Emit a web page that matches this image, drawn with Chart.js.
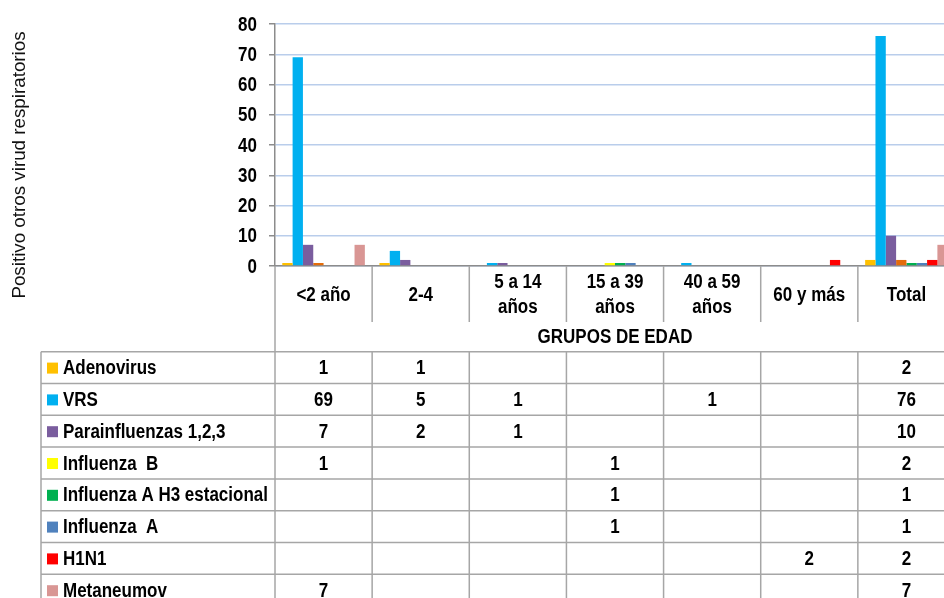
<!DOCTYPE html>
<html>
<head>
<meta charset="utf-8">
<script src="https://cdn.jsdelivr.net/npm/chart.js@4.4.1/dist/chart.umd.min.js"></script>
<style>
  html, body { margin: 0; padding: 0; background: #fff; overflow: hidden; }
  #wrap { position: relative; width: 960px; height: 598px; }
</style>
</head>
<body>
<div id="wrap"><canvas id="c"></canvas></div>
<script>
// Age groups (x categories); each entry holds the lines of its label
const categories = [['<2 año'], ['2-4'], ['5 a 14', 'años'], ['15 a 39', 'años'], ['40 a 59', 'años'], ['60 y más'], ['Total']];

// Virus series; null = empty cell in the data table
const seriesNames = ['Adenovirus', 'VRS', 'Parainfluenzas 1,2,3', 'Influenza  B', 'Influenza A H3 estacional', 'Influenza  A', 'H1N1', 'Metaneumov'];
const adenovirus     = [1, 1, null, null, null, null, 2];
const vrs            = [69, 5, 1, null, 1, null, 76];
const parainfluenzas = [7, 2, 1, null, null, null, 10];
const influenzaB     = [1, null, null, 1, null, null, 2];
const influenzaAH3   = [null, null, null, 1, null, null, 1];
const influenzaA     = [null, null, null, 1, null, null, 1];
const h1n1           = [null, null, null, null, null, 2, 2];
const metaneumov     = [7, null, null, null, null, null, 7];
const seriesValues = [adenovirus, vrs, parainfluenzas, influenzaB, influenzaAH3, influenzaA, h1n1, metaneumov];

const yTicks = [0, 10, 20, 30, 40, 50, 60, 70, 80];

const legendColors = ['#FFC000', '#00B0F0', '#7A5D9E', '#FFFF00', '#00B050', '#4F81BD', '#FF0000', '#D99694'];
// Influenza B bars in "<2 año" and "Total" are filled dark orange
const barColors = legendColors.map((c, i) =>
  i === 3 ? ['#E46C0A', c, c, c, c, c, '#E46C0A'] : c);

const FONT = '"Liberation Sans", Arial, sans-serif';
const BOLD = 'bold 20px ' + FONT;
const SQUEEZE = 0.85;  // narrow lettering
const LINE = '#A6A6A6';

// draws horizontally condensed text
function narrowText(ctx, text, x, y, align) {
  ctx.save();
  ctx.translate(x, y);
  ctx.scale(SQUEEZE, 1);
  ctx.textAlign = align;
  ctx.fillText(text, 0, 0);
  ctx.restore();
}

const tablePlugin = {
  id: 'dataTable',
  afterDraw(chart) {
    const { ctx, chartArea, scales: { x, y } } = chart;
    const n = categories.length;
    const catW = x.getPixelForValue(1) - x.getPixelForValue(0);
    const edges = [];
    for (let i = 0; i <= n; i++) edges.push(x.getPixelForValue(0) - catW / 2 + i * catW);
    const axisX = chartArea.left;
    const base = chartArea.bottom;
    const labelBottom = base + 56;
    const tableTop = 351.7;
    const rowH = 31.8;
    const tableLeft = 41;

    ctx.save();
    ctx.strokeStyle = LINE;
    ctx.lineWidth = 1.5;

    // category separators under the axis
    ctx.beginPath();
    for (let i = 1; i < edges.length; i++) {
      ctx.moveTo(edges[i], base);
      ctx.lineTo(edges[i], labelBottom);
    }
    // axis line continuing through the label band and table
    ctx.moveTo(axisX, base);
    ctx.lineTo(axisX, 598);
    ctx.stroke();

    ctx.fillStyle = '#000';
    ctx.font = BOLD;
    ctx.textBaseline = 'middle';

    // y tick labels
    yTicks.forEach(v => narrowText(ctx, String(v), axisX - 18, y.getPixelForValue(v) + 1, 'right'));

    // category labels
    categories.forEach((lines, i) => {
      const cx = x.getPixelForValue(i);
      const cy = base + 29;
      const lh = 25;
      lines.forEach((t, k) => {
        narrowText(ctx, t, cx, cy + (k - (lines.length - 1) / 2) * lh, 'center');
      });
    });
    narrowText(ctx, 'GRUPOS DE EDAD', (edges[0] + edges[n]) / 2, 337, 'center');

    // data table grid
    ctx.beginPath();
    for (let r = 0; r <= seriesNames.length; r++) {
      const ly = tableTop + r * rowH;
      ctx.moveTo(tableLeft, ly);
      ctx.lineTo(960, ly);
    }
    ctx.moveTo(tableLeft, tableTop);
    ctx.lineTo(tableLeft, 598);
    for (let i = 1; i < edges.length; i++) {
      ctx.moveTo(edges[i], tableTop);
      ctx.lineTo(edges[i], 598);
    }
    ctx.stroke();

    // legend keys, names and values
    seriesNames.forEach((name, r) => {
      const cy = tableTop + r * rowH + rowH / 2;
      ctx.fillStyle = legendColors[r];
      ctx.fillRect(47, cy - 5, 11, 11);
      ctx.fillStyle = '#000';
      narrowText(ctx, name, 63, cy + 1, 'left');
      seriesValues[r].forEach((v, i) => {
        if (v !== null) narrowText(ctx, String(v), x.getPixelForValue(i), cy + 1, 'center');
      });
    });

    // y-axis title
    ctx.save();
    ctx.translate(20, 165);
    ctx.rotate(-Math.PI / 2);
    ctx.font = '18.8px ' + FONT;
    ctx.textAlign = 'center';
    ctx.textBaseline = 'middle';
    ctx.fillStyle = '#111';
    ctx.fillText('Positivo otros virud respiratorios', 0, 0);
    ctx.restore();

    ctx.restore();
  }
};

new Chart(document.getElementById('c'), {
  type: 'bar',
  data: {
    labels: categories.map(l => l.join(' ')),
    datasets: seriesNames.map((name, i) => ({
      label: name,
      data: seriesValues[i],
      backgroundColor: barColors[i],
      borderWidth: 0,
      barPercentage: 1,
      categoryPercentage: 0.85
    }))
  },
  options: {
    responsive: true,
    maintainAspectRatio: false,
    animation: false,
    layout: { padding: { top: 24, right: 5, left: 0, bottom: 0 } },
    plugins: { legend: { display: false }, tooltip: { enabled: false } },
    scales: {
      x: {
        grid: { display: false },
        border: { color: '#8C8C8C', width: 1.5 },
        ticks: { display: false },
        afterFit(scale) { scale.height = 598 - 266; }
      },
      y: {
        min: 0,
        max: 80,
        afterBuildTicks(scale) { scale.ticks = yTicks.map(v => ({ value: v })); },
        afterFit(scale) { scale.width = 275; },
        grid: { color: '#B9CDEB', lineWidth: 1.5, tickLength: 6, tickColor: '#8C8C8C' },
        border: { color: '#8C8C8C', width: 1.5 },
        ticks: { color: 'rgba(0,0,0,0)', font: { family: FONT, size: 18, weight: 'bold' } }
      }
    }
  },
  plugins: [tablePlugin]
});
</script>
</body>
</html>
